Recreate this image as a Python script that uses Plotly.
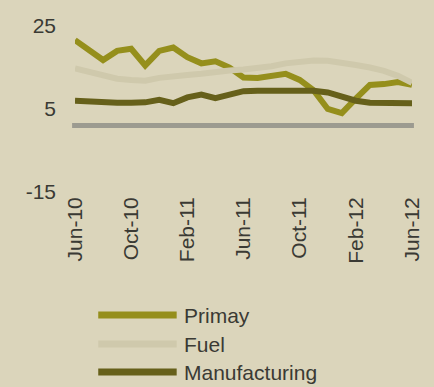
import plotly.graph_objects as go

months = ["Jun-10", "Jul-10", "Aug-10", "Sep-10", "Oct-10", "Nov-10", "Dec-10", "Jan-11",
          "Feb-11", "Mar-11", "Apr-11", "May-11", "Jun-11", "Jul-11", "Aug-11", "Sep-11",
          "Oct-11", "Nov-11", "Dec-11", "Jan-12", "Feb-12", "Mar-12", "Apr-12", "May-12", "Jun-12"]
tick_labels = ["Jun-10", "Oct-10", "Feb-11", "Jun-11", "Oct-11", "Feb-12", "Jun-12"]
y_ticks = [-15, 5, 25]
y_tick_labels = ["-15", "5", "25"]

primary = [21.6, 19.0, 16.8, 19.0, 19.5, 15.5, 19.0, 19.8, 17.5, 16.0, 16.5, 15.0, 12.6,
           12.5, 13.0, 13.5, 12.0, 9.5, 5.0, 4.0, 7.5, 10.8, 11.0, 11.5, 10.8]
fuel = [14.8, 14.0, 13.0, 12.3, 12.0, 11.8, 12.5, 13.0, 13.2, 13.5, 14.0, 14.3, 14.5,
        14.8, 15.3, 16.0, 16.5, 16.7, 16.6, 16.2, 15.6, 15.0, 14.2, 13.0, 11.3]
manufacturing = [7.0, 6.8, 6.5, 6.5, 6.5, 6.6, 7.2, 6.4, 7.8, 8.5, 7.6, 8.5, 9.3,
                 9.4, 9.4, 9.4, 9.4, 9.4, 9.0, 8.0, 7.0, 6.5, 6.4, 6.4, 6.4]
baseline_value = 1.0

series = [("Primay", primary, "#958f1c"),
          ("Fuel", fuel, "#cfc9ac"),
          ("Manufacturing", manufacturing, "#66601a")]

W, H = 434, 387
L, R, T, B = 75, 11, 26, 195
PW, PH = W - L - R, H - T - B
BG = "#dbd5bb"
FONT = dict(family="Liberation Sans, Arial, sans-serif", size=21, color="#3a3a34")

def px(xp):
    return (xp - L) / PW

def py(yp):
    return (H - B - yp) / PH

x_idx = list(range(len(months)))
fig = go.Figure()

fig.add_shape(type="line", xref="paper", yref="y", x0=px(72), x1=px(425),
              y0=baseline_value, y1=baseline_value, line=dict(color="#9c9b90", width=5), layer="below")

for name, vals, col in series:
    fig.add_trace(go.Scatter(x=x_idx, y=vals, mode="lines", name=name,
                             line=dict(color=col, width=6), showlegend=False))

# manual legend
leg_y = [315, 344, 372]
for (name, vals, col), yy in zip(series, leg_y):
    fig.add_shape(type="line", xref="paper", yref="paper", x0=px(99), x1=px(180),
                  y0=py(yy), y1=py(yy), line=dict(color=col, width=7))
    fig.add_annotation(xref="paper", yref="paper", x=px(186), y=py(yy), text=name,
                       showarrow=False, xanchor="left", yanchor="middle", font=FONT)

tick_pos = [months.index(t) for t in tick_labels]
fig.update_xaxes(range=[0, 24], tickvals=tick_pos, ticktext=tick_labels, tickangle=-90,
                 showgrid=False, zeroline=False, showline=False, ticks="",
                 tickfont=FONT, ticklabelstandoff=0)
fig.update_yaxes(range=[-15, 25], tickvals=y_ticks, ticktext=y_tick_labels, showgrid=False,
                 zeroline=False, showline=False, ticks="", tickfont=FONT, ticklabelstandoff=18)
fig.update_layout(width=W, height=H, margin=dict(l=L, r=R, t=T, b=B),
                  paper_bgcolor=BG, plot_bgcolor=BG, showlegend=False)
fig.write_html("out.html")
